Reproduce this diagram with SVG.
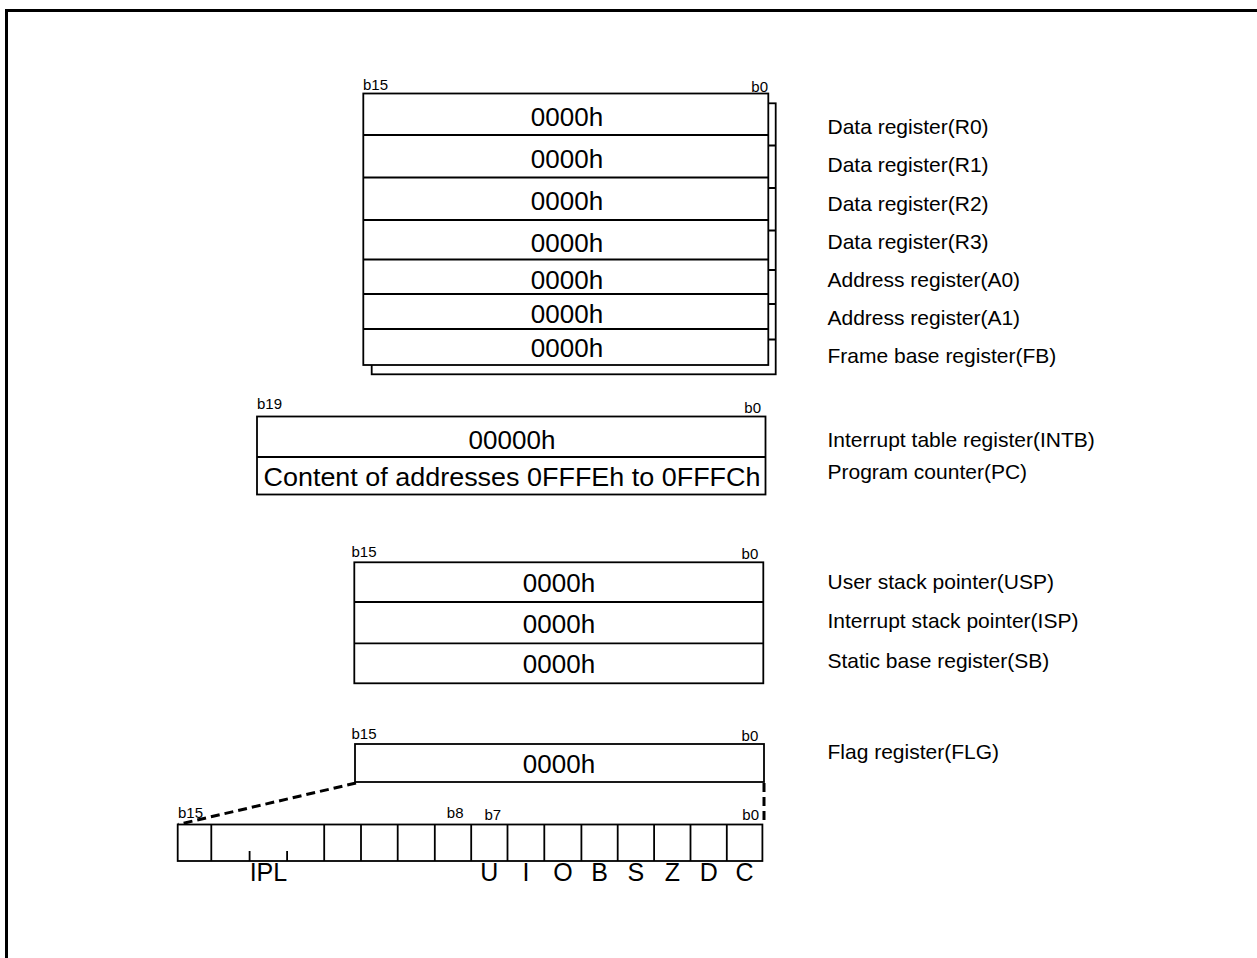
<svg xmlns="http://www.w3.org/2000/svg" width="1257" height="958" viewBox="0 0 1257 958">
<style>
.box{fill:#fff;stroke:#000;stroke-width:1.8}
.ln{stroke:#000;stroke-width:1.8;fill:none}
.val{font-family:"Liberation Sans",Arial,sans-serif;font-size:26px;text-anchor:middle;fill:#000}
.bit{font-family:"Liberation Sans",Arial,sans-serif;font-size:15px;fill:#000}
.lbl{font-family:"Liberation Sans",Arial,sans-serif;font-size:21px;fill:#000}
.flag{font-family:"Liberation Sans",Arial,sans-serif;font-size:25px;text-anchor:middle;fill:#000}
.dash{stroke:#000;stroke-width:3;stroke-dasharray:9 5;fill:none}
</style>
<rect width="1257" height="958" fill="#fff"/>
<path d="M6.5,958 V10.5 H1257" fill="none" stroke="#000" stroke-width="3"/>

<g id="general-registers">
  <rect class="box" x="371.7" y="103.3" width="404" height="271"/>
  <path class="ln" d="M768,145.5 H775.7 M768,188 H775.7 M768,230.5 H775.7 M768,270 H775.7 M768,304 H775.7 M768,339.5 H775.7"/>
  <rect class="box" x="363.3" y="93.5" width="405" height="271.5"/>
  <path class="ln" d="M363.3,135 H768.3 M363.3,177.5 H768.3 M363.3,220 H768.3 M363.3,259.5 H768.3 M363.3,294 H768.3 M363.3,329 H768.3"/>
  <text class="bit" x="363" y="90">b15</text>
  <text class="bit" x="768" y="91.5" text-anchor="end">b0</text>
  <text class="val" x="567" y="126">0000h</text>
  <text class="val" x="567" y="168">0000h</text>
  <text class="val" x="567" y="209.5">0000h</text>
  <text class="val" x="567" y="251.5">0000h</text>
  <text class="val" x="567" y="289">0000h</text>
  <text class="val" x="567" y="323">0000h</text>
  <text class="val" x="567" y="357">0000h</text>
  <text class="lbl" x="827.5" y="134">Data register(R0)</text>
  <text class="lbl" x="827.5" y="172">Data register(R1)</text>
  <text class="lbl" x="827.5" y="210.5">Data register(R2)</text>
  <text class="lbl" x="827.5" y="248.5">Data register(R3)</text>
  <text class="lbl" x="827.5" y="286.5">Address register(A0)</text>
  <text class="lbl" x="827.5" y="325">Address register(A1)</text>
  <text class="lbl" x="827.5" y="363">Frame base register(FB)</text>
</g>

<g id="intb-pc">
  <rect class="box" x="257" y="416.5" width="508.5" height="78"/>
  <path class="ln" d="M257,457 H765.5"/>
  <text class="bit" x="257" y="408.5">b19</text>
  <text class="bit" x="761" y="413" text-anchor="end">b0</text>
  <text class="val" x="512" y="448.5">00000h</text>
  <text class="val" x="512" y="485.5" textLength="497" lengthAdjust="spacingAndGlyphs">Content of addresses 0FFFEh to 0FFFCh</text>
  <text class="lbl" x="827.5" y="447">Interrupt table register(INTB)</text>
  <text class="lbl" x="827.5" y="479">Program counter(PC)</text>
</g>

<g id="stack-registers">
  <rect class="box" x="354.3" y="562.3" width="409" height="121"/>
  <path class="ln" d="M354.3,602 H763.3 M354.3,643.3 H763.3"/>
  <text class="bit" x="351.5" y="557.3">b15</text>
  <text class="bit" x="758.3" y="559" text-anchor="end">b0</text>
  <text class="val" x="559" y="592.3">0000h</text>
  <text class="val" x="559" y="632.7">0000h</text>
  <text class="val" x="559" y="673.3">0000h</text>
  <text class="lbl" x="827.5" y="588.5">User stack pointer(USP)</text>
  <text class="lbl" x="827.5" y="627.5">Interrupt stack pointer(ISP)</text>
  <text class="lbl" x="827.5" y="667.5">Static base register(SB)</text>
</g>

<g id="flg-register">
  <rect class="box" x="355" y="744" width="409" height="38"/>
  <text class="bit" x="351.5" y="738.5">b15</text>
  <text class="bit" x="758.3" y="740.5" text-anchor="end">b0</text>
  <text class="val" x="559" y="773">0000h</text>
  <text class="lbl" x="827.5" y="759">Flag register(FLG)</text>
</g>

<g id="connectors">
  <path class="dash" d="M356,783 L178,824.5"/>
  <path class="dash" d="M764,783 V824.5"/>
</g>

<g id="flg-bits">
  <rect class="box" x="177.7" y="824.5" width="584.7" height="36.5"/>
  <path class="ln" d="M211.3,824.5 V861 M324.2,824.5 V861 M361,824.5 V861 M397.7,824.5 V861 M434.8,824.5 V861 M471.2,824.5 V861 M507.5,824.5 V861 M544.3,824.5 V861 M581.4,824.5 V861 M617.7,824.5 V861 M654.1,824.5 V861 M690.5,824.5 V861 M726.8,824.5 V861"/>
  <path class="ln" d="M249.6,851 V861 M287.1,851 V861"/>
  <text class="bit" x="178" y="818">b15</text>
  <text class="bit" x="463.5" y="817.5" text-anchor="end">b8</text>
  <text class="bit" x="484.5" y="820">b7</text>
  <text class="bit" x="759" y="820" text-anchor="end">b0</text>
  <text class="flag" x="268.4" y="881">IPL</text>
  <text class="flag" x="489.3" y="881">U</text>
  <text class="flag" x="526" y="881">I</text>
  <text class="flag" x="562.9" y="881">O</text>
  <text class="flag" x="599.5" y="881">B</text>
  <text class="flag" x="635.9" y="881">S</text>
  <text class="flag" x="672.3" y="881">Z</text>
  <text class="flag" x="708.7" y="881">D</text>
  <text class="flag" x="744.6" y="881">C</text>
</g>
</svg>
